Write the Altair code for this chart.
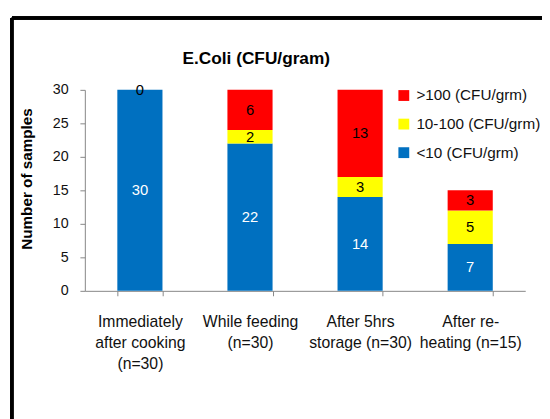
import altair as alt
import pandas as pd

title_text = "E.Coli (CFU/gram)"
categories = ["Immediately|after cooking|(n=30)", "While feeding|(n=30)",
              "After 5hrs|storage (n=30)", "After re-|heating (n=15)"]
series = ["<10 (CFU/grm)", "10-100 (CFU/grm)", ">100 (CFU/grm)"]
low = [30, 22, 14, 7]
mid = [0, 2, 3, 5]
high = [0, 6, 13, 3]
colors = ["#0070C0", "#FFFF00", "#FF0000"]
label_colors = ["white", "black", "black"]

rows = []
for vals, s, rank, lc in zip([low, mid, high], series, [0, 1, 2], label_colors):
    for c, v in zip(categories, vals):
        rows.append({"cat": c, "series": s, "value": v, "rank": rank, "lc": lc})
df = pd.DataFrame(rows)

FONT = "Liberation Sans"

base = alt.Chart(df).transform_stack(
    stack="value", groupby=["cat"], as_=["y0", "y1"],
    sort=[alt.SortField("rank", order="ascending")]
).transform_calculate(ymid="(datum.y0 + datum.y1) / 2")

xaxis = alt.Axis(labelExpr="split(datum.label, '|')", labelAngle=0,
                 labelLineHeight=21.5, labelPadding=18, labelFontSize=16,
                 labelFont=FONT, labelColor="#111", tickBand="extent",
                 tickSize=5, tickColor="#868686", domainColor="#868686",
                 labelBaseline="top")
xscale = alt.Scale(paddingInner=0.59, paddingOuter=0.295)
yaxis = alt.Axis(values=[0, 5, 10, 15, 20, 25, 30], grid=False,
                 tickSize=5, tickColor="#868686", domainColor="#868686",
                 labelFontSize=14.5, labelFont=FONT, labelColor="#111",
                 labelPadding=12,
                 titleFont=FONT, titleFontSize=15.5, titleFontWeight="bold",
                 titleColor="#000", titleX=-59, titleY=90,
                 titleAngle=-90, titleAlign="center",
                 titleBaseline="middle")
yscale = alt.Scale(domain=[0, 30], nice=False)

bars = base.mark_bar().encode(
    x=alt.X("cat:N", sort=categories, title=None, scale=xscale, axis=xaxis),
    y=alt.Y("y0:Q", title="Number of samples", scale=yscale, axis=yaxis),
    y2="y1:Q",
    color=alt.Color("series:N", sort=series[::-1],
                    scale=alt.Scale(domain=series[::-1], range=colors[::-1]),
                    legend=alt.Legend(title=None, orient="none", legendX=316,
                                      legendY=-2, symbolType="square",
                                      symbolSize=121, symbolStrokeWidth=0,
                                      labelFontSize=15.5, labelFont=FONT,
                                      labelColor="#111", rowPadding=12,
                                      labelOffset=5)),
)

labels = base.transform_filter(
    "datum.value > 0 || datum.rank == 2"
).mark_text(font=FONT, fontSize=15, baseline="middle").encode(
    x=alt.X("cat:N", sort=categories, title=None, scale=xscale, axis=xaxis),
    y=alt.Y("ymid:Q", title="Number of samples", scale=yscale, axis=yaxis),
    text="value:Q",
    color=alt.Color("lc:N", scale=None),
)

title_mark = alt.Chart(pd.DataFrame({"t": [title_text]})).mark_text(
    font=FONT, fontSize=17.5, fontWeight="bold", color="#000",
    align="center", baseline="middle"
).encode(x=alt.value(174), y=alt.value(-31), text="t:N")

border_top = alt.Chart(df).mark_rule(color="black", strokeWidth=2.5).encode(
    x=alt.value(-74), x2=alt.value(500), y=alt.value(-73))
border_left = alt.Chart(df).mark_rule(color="black", strokeWidth=2.5).encode(
    x=alt.value(-74), y=alt.value(-73), y2=alt.value(400))

chart = alt.layer(bars, labels, title_mark, border_top, border_left).properties(
    width=447, height=204,
    autosize=alt.AutoSizeParams(type="none"),
    padding={"left": 78, "top": 80, "right": 17, "bottom": 127},
).configure_view(stroke=None)

chart.save("out.html", embed_options={"renderer": "svg", "actions": False})
